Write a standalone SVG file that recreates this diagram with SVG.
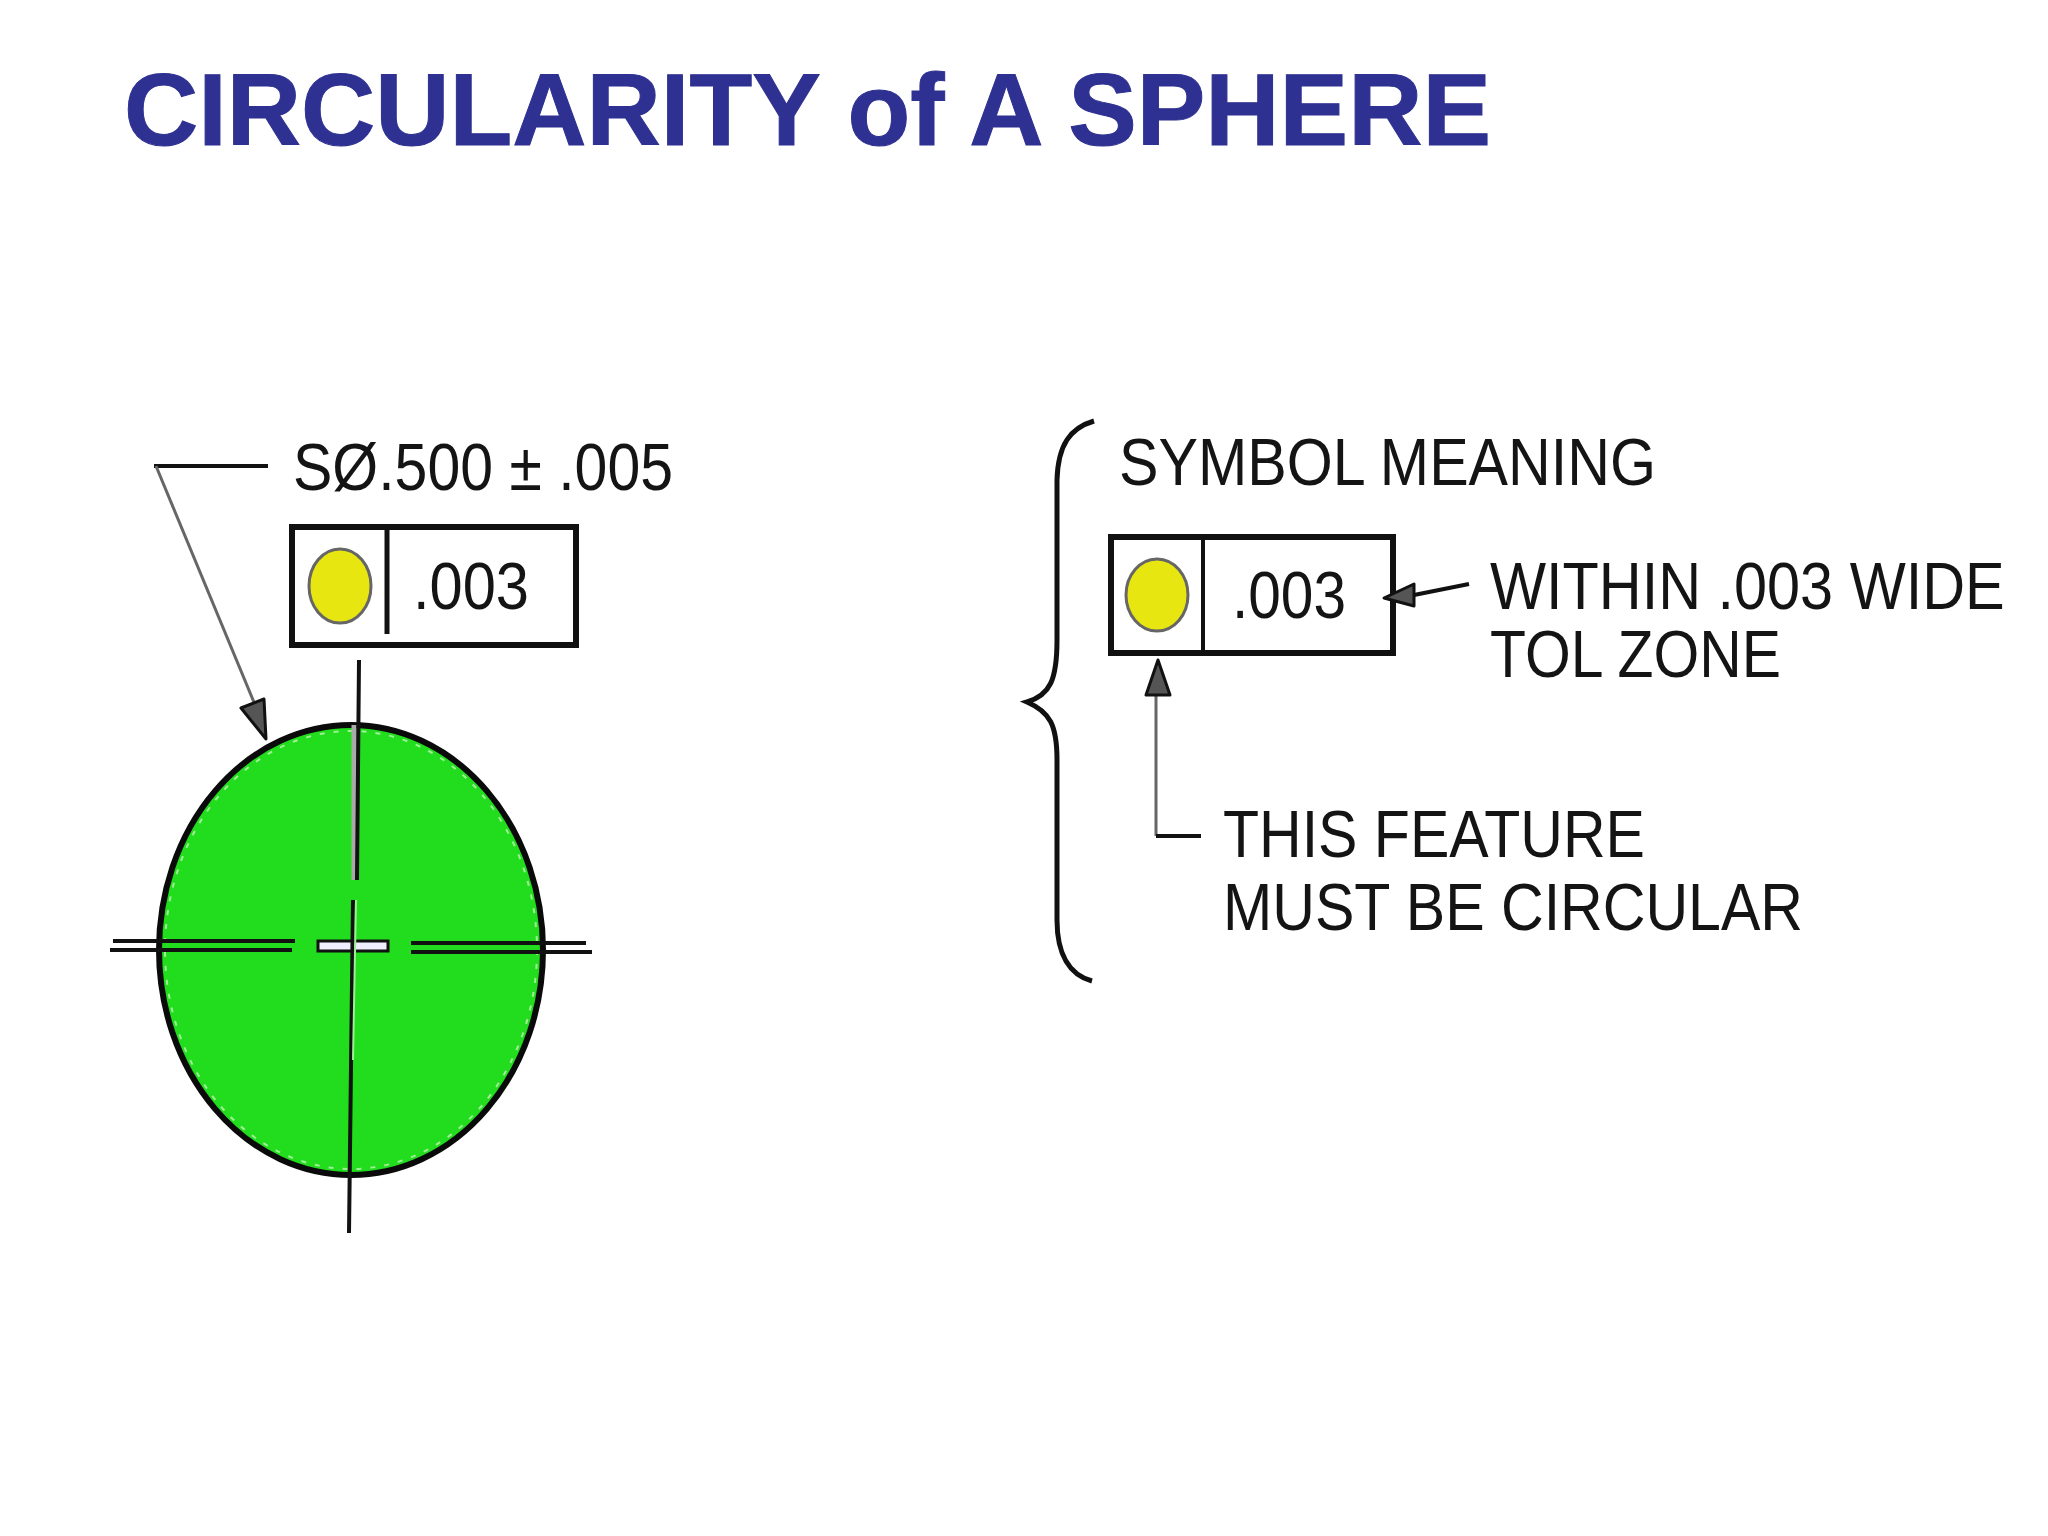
<svg xmlns="http://www.w3.org/2000/svg" width="2048" height="1536" viewBox="0 0 2048 1536">
<style>
.t{font-family:"Liberation Sans",Arial,sans-serif;fill:#141414}
.ln{fill:none;stroke:#111;stroke-width:4}
.gr{fill:none;stroke:#666;stroke-width:3}
.box{fill:#fff;stroke:#111;stroke-width:6}
.sym{fill:#e8e610;stroke:#666;stroke-width:3}
.head{fill:#555;stroke:#111;stroke-width:3;stroke-linejoin:round}
</style>
<rect width="2048" height="1536" fill="#fff"/>
<text id="title" x="124" y="145" font-family="'Liberation Sans',Arial,sans-serif" font-weight="700" font-size="102" fill="#2e3191" stroke="#2e3191" stroke-width="1" textLength="1367" lengthAdjust="spacingAndGlyphs">CIRCULARITY of A SPHERE</text>

<g id="sphere">
<ellipse cx="351" cy="950" rx="192" ry="225" fill="#22dd1e" stroke="#0a0a0a" stroke-width="6"/>
<ellipse cx="351" cy="950" rx="186" ry="219" fill="none" stroke="#9fef95" stroke-width="2" stroke-dasharray="5 9"/>
</g>
<g id="centerlines">
<path class="ln" d="M113 941H295M110 950H292M411 943H586M411 952H592"/>
<rect x="318" y="941" width="70" height="10" fill="#eef" stroke="#111" stroke-width="3"/>
<path d="M354 725V880" stroke="#aaa" stroke-width="5" fill="none"/>
<path class="ln" d="M359 660L357 880M353 900L349 1233"/>
<path d="M356 900L353 1060" stroke="#9fef95" stroke-width="2" fill="none"/>
</g>

<g id="dimension-label">
<text class="t" x="293" y="490" font-size="66" textLength="380" lengthAdjust="spacingAndGlyphs">SØ.500 ± .005</text>
</g>
<g id="fcf-left">
<rect class="box" x="292" y="527" width="284" height="118"/>
<path d="M387 527V634" stroke="#111" stroke-width="5"/>
<ellipse class="sym" cx="340" cy="586" rx="31" ry="37"/>
<text class="t" x="413" y="609" font-size="66" textLength="116" lengthAdjust="spacingAndGlyphs">.003</text>
</g>

<g id="meaning-brace">
<path d="M1094 421C1070 428 1058 445 1057 480V640C1057 680 1050 695 1027 702C1050 712 1057 725 1057 760V920C1057 955 1070 975 1092 981" fill="none" stroke="#111" stroke-width="5"/>
</g>
<g id="meaning-heading">
<text class="t" x="1119" y="485" font-size="66" textLength="537" lengthAdjust="spacingAndGlyphs">SYMBOL MEANING</text>
</g>
<g id="fcf-right">
<rect class="box" x="1111" y="537" width="282" height="116"/>
<path d="M1203 537V653" stroke="#111" stroke-width="4"/>
<ellipse class="sym" cx="1157" cy="595" rx="31" ry="36"/>
<text class="t" x="1232" y="618" font-size="66" textLength="114" lengthAdjust="spacingAndGlyphs">.003</text>
</g>
<g id="label-within">
<text class="t" transform="translate(1490 609) scale(.9 1)" font-size="66">WITHIN .003 WIDE</text>
<text class="t" x="1490" y="677" font-size="66" textLength="291" lengthAdjust="spacingAndGlyphs">TOL ZONE</text>
</g>
<g id="label-feature">
<text class="t" x="1223" y="857" font-size="66" textLength="422" lengthAdjust="spacingAndGlyphs">THIS FEATURE</text>
<text class="t" x="1223" y="930" font-size="66" textLength="580" lengthAdjust="spacingAndGlyphs">MUST BE CIRCULAR</text>
</g>

<g id="connectors">
<path class="ln" d="M268 466H154"/>
<path class="gr" d="M156 466L258 712" stroke-width="4"/>
<path class="head" d="M266 739L241 708L264 699Z"/>
<path class="gr" d="M1156 690V836"/>
<path class="ln" d="M1156 836H1201" stroke-width="3"/>
<path class="head" d="M1158 660L1146 695H1170Z"/>
<path class="ln" d="M1414 595L1469 584" stroke-width="3"/>
<path class="head" d="M1384 598L1414 584L1414 606Z"/>
</g>
</svg>
